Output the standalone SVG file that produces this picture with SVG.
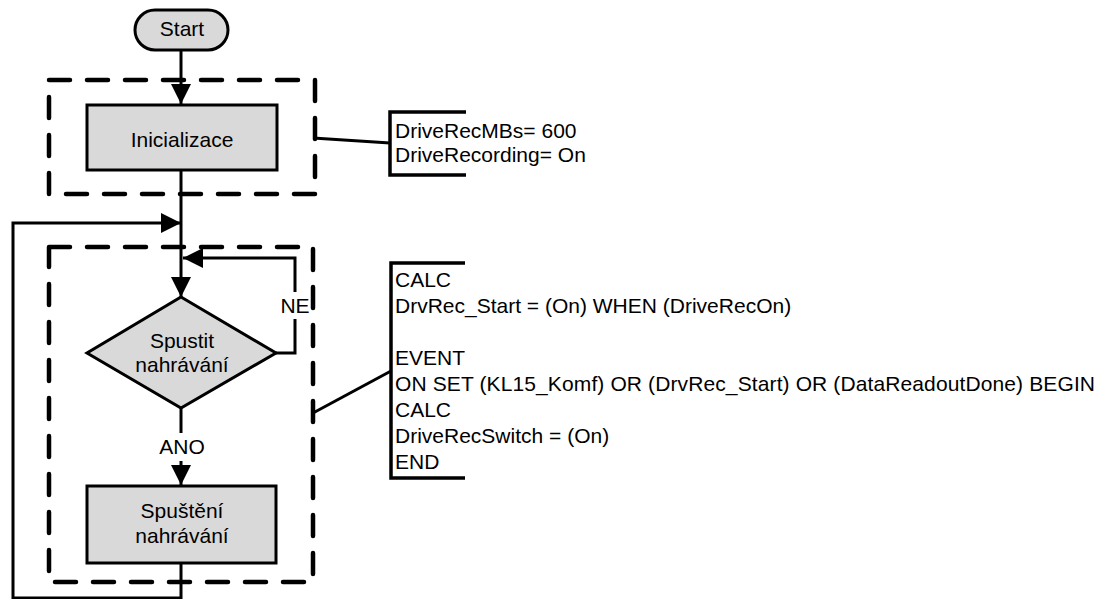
<svg xmlns="http://www.w3.org/2000/svg" width="1099" height="599" viewBox="0 0 1099 599">
<style>
text{font-family:"Liberation Sans",Arial,sans-serif;font-size:21px;fill:#000}
.c{text-anchor:middle}
.shape{fill:#d9d9d9;stroke:#000;stroke-width:3}
.conn{fill:none;stroke:#000;stroke-width:3}
.dash{fill:none;stroke:#000;stroke-width:4.5;stroke-dasharray:21 17;stroke-linecap:round;stroke-linejoin:round}
.br{fill:none;stroke:#000;stroke-width:3.5}
</style>
<defs>
<marker id="arr" markerUnits="userSpaceOnUse" markerWidth="20" markerHeight="20" viewBox="0 0 20 20" refX="20" refY="10" orient="auto">
<path d="M0,0 L20,10 L0,20 z" fill="#000"/>
</marker>
</defs>
<rect width="1099" height="599" fill="#fff"/>
<g id="groups">
<rect id="group-init" class="dash" x="49" y="80" width="266" height="114"/>
<rect id="group-loop" class="dash" x="49" y="247" width="264" height="335"/>
</g>
<g id="connectors">
<path class="conn" d="M181,50 V104" marker-end="url(#arr)"/>
<path class="conn" d="M181,170 V297" marker-end="url(#arr)"/>
<path class="conn" d="M181,563 V598 H13 V223 H181" marker-end="url(#arr)"/>
<path class="conn" d="M276,353 H295 V258 H183" marker-end="url(#arr)"/>
<path class="conn" d="M181,408 V485" marker-end="url(#arr)"/>
<path class="conn" d="M313,138 L390,143"/>
<path class="conn" d="M313,413 L391,371"/>
<rect x="281" y="292" width="28" height="27" fill="#fff"/>
<text x="295" y="313" class="c">NE</text>
<rect x="163" y="433" width="38" height="28" fill="#fff"/>
<text x="182" y="454" class="c">ANO</text>
</g>
<g id="start">
<rect class="shape" x="135" y="10" width="93" height="40" rx="20" ry="20"/>
<text x="182" y="36" class="c">Start</text>
</g>
<g id="inicializace">
<rect class="shape" x="87" y="105" width="190" height="65"/>
<text x="182" y="147" class="c">Inicializace</text>
</g>
<g id="spustit">
<polygon class="shape" points="181,297 276,353 181,408 87,353"/>
<text x="182" y="348" class="c">Spustit</text>
<text x="182" y="372" class="c">nahrávání</text>
</g>
<g id="spusteni">
<rect class="shape" x="87" y="486" width="189" height="77"/>
<text x="182" y="518" class="c">Spuštění</text>
<text x="182" y="543" class="c">nahrávání</text>
</g>
<g id="note-init">
<path class="br" d="M466,112 H390 V175 H466"/>
<text x="395" y="138">DriveRecMBs= 600</text>
<text x="395" y="162">DriveRecording= On</text>
</g>
<g id="note-calc">
<path class="br" d="M465,263 H391 V478 H465"/>
<text x="395" y="287">CALC</text>
<text x="395" y="313">DrvRec_Start = (On) WHEN (DriveRecOn)</text>
<text x="395" y="365">EVENT</text>
<text x="395" y="391" textLength="700" lengthAdjust="spacing">ON SET (KL15_Komf) OR (DrvRec_Start) OR (DataReadoutDone) BEGIN</text>
<text x="395" y="417">CALC</text>
<text x="395" y="443">DriveRecSwitch = (On)</text>
<text x="395" y="469">END</text>
</g>
</svg>
